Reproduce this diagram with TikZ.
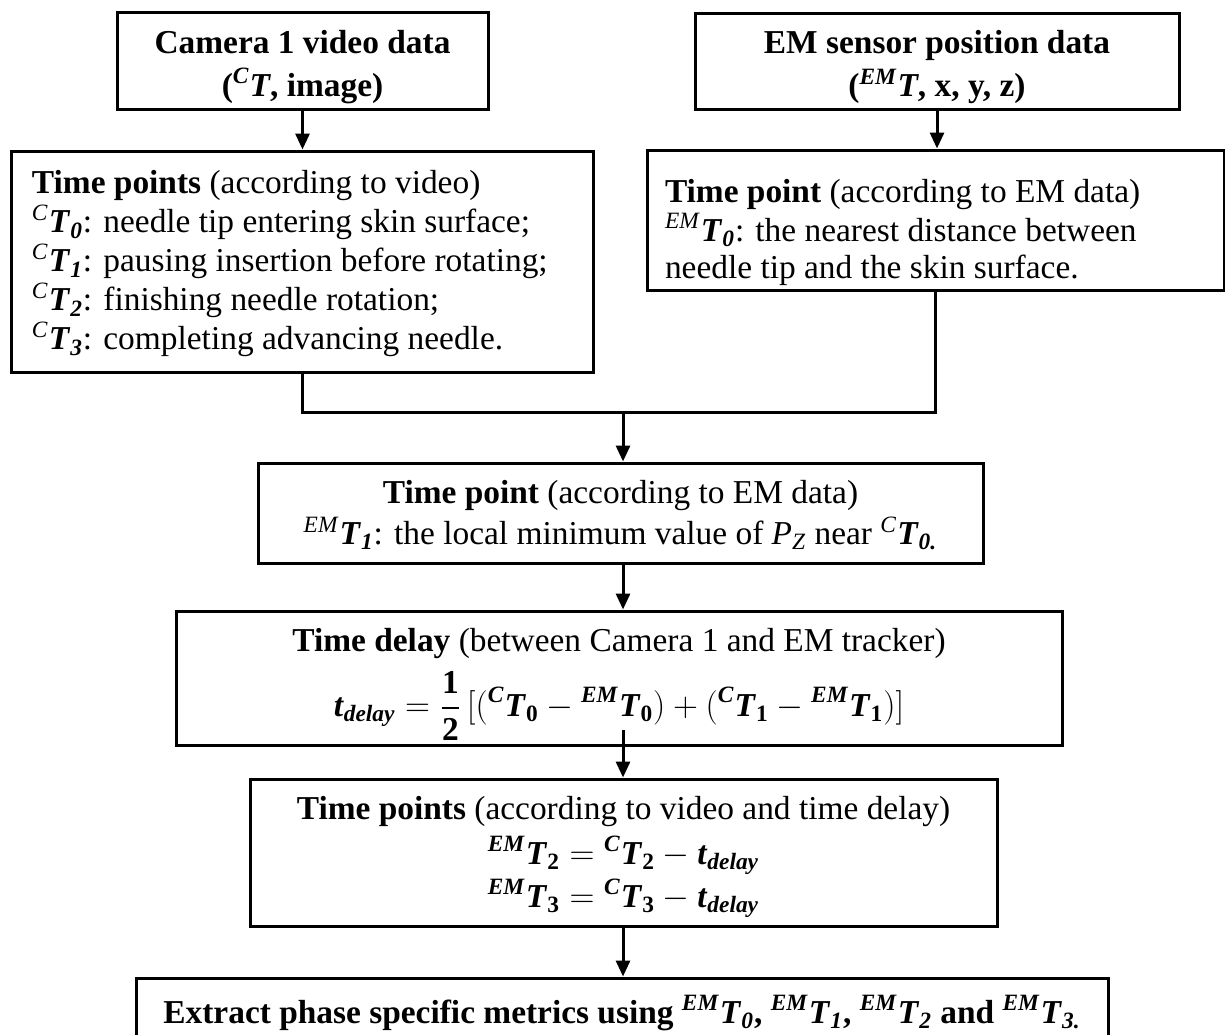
\documentclass[tikz,border=0pt]{standalone}
\usepackage{amsmath}
\usepackage{fontspec}
\setmainfont{Liberation Serif}
\usetikzlibrary{arrows.meta,calc}
\newcommand\bt[1]{\textbf{\textit{#1}}}
\newcommand\tT[2]{\textsuperscript{\textit{#1}}\bt{T}\textsubscript{\bt{#2}}}
\begin{document}
\begin{tikzpicture}[x=0.5pt,y=-0.5pt,
  box/.style={draw, line width=1.5pt, align=center, inner sep=0pt,
    font=\fontsize{16.7}{19.5}\selectfont},
  lbox/.style={box, align=flush left},
  conn/.style={line width=1.5pt},
  arr/.style={line width=1.5pt, -{Triangle[length=8pt,width=7pt]}}]
\useasboundingbox (0,0) rectangle (1225,1034);

\node[box, font=\fontsize{16.7}{19.5}\selectfont\bfseries, minimum width=371*0.5pt, minimum height=97*0.5pt] (A) at (302.5,60.5)
  {\rule{0pt}{18pt}Camera 1 video data\\[2pt](\textsuperscript{\textit{C}}\textit{T}, image)};
\node[box, font=\fontsize{16.7}{19.5}\selectfont\bfseries, minimum width=484*0.5pt, minimum height=96*0.5pt] (B) at (937,61)
  {\rule{0pt}{18pt}EM sensor position data\\[2pt](\textsuperscript{\textit{EM}}\textit{T}, x, y, z)};

\node[lbox, text width=270pt, inner xsep=10.5pt, minimum height=221*0.5pt] (C) at (302,261.5)
  {\rule{0pt}{14pt}\textbf{Time points} (according to video)\\
   \tT{C}{0}: needle tip entering skin surface;\\
   \tT{C}{1}: pausing insertion before rotating;\\
   \tT{C}{2}: finishing needle rotation;\\
   \tT{C}{3}: completing advancing needle.};
\node[lbox, text width=270.5pt, inner xsep=9pt, minimum height=140*0.5pt] (D) at (935.5,220)
  {\rule{0pt}{24pt}\textbf{Time point} (according to EM data)\\
   \tT{EM}{0}: the nearest distance between\\[-1pt]
   needle tip and the skin surface.};

\coordinate (J) at (623,412);

\node[box, minimum width=725*0.5pt, minimum height=100*0.5pt] (E) at (620.5,513)
  {\rule{0pt}{14pt}\textbf{Time point} (according to EM data)\\[1pt]
   \tT{EM}{1}: the local minimum value of \textit{P}\textsubscript{\textit{Z}} near \tT{C}{0.}};

\node[box, minimum width=886*0.5pt, minimum height=134*0.5pt] (F) at (619,678)
  {\rule{0pt}{18pt}\textbf{Time delay} (between Camera 1 and EM tracker)\\[5pt]
   $\displaystyle \bt{t}_{\bt{delay}} = \frac{\textbf{1}}{\textbf{2}}\,[({}^{\bt{C}}\bt{T}_{\textbf{0}} - {}^{\bt{EM}}\bt{T}_{\textbf{0}}) + ({}^{\bt{C}}\bt{T}_{\textbf{1}} - {}^{\bt{EM}}\bt{T}_{\textbf{1}})]$};

\node[box, minimum width=747*0.5pt, minimum height=147*0.5pt] (G) at (623.5,852.5)
  {\rule{0pt}{16pt}\textbf{Time points} (according to video and time delay)\\[3pt]
   ${}^{\bt{EM}}\bt{T}_{\textbf{2}} = {}^{\bt{C}}\bt{T}_{\textbf{2}} - \bt{t}_{\bt{delay}}$\\[2pt]
   ${}^{\bt{EM}}\bt{T}_{\textbf{3}} = {}^{\bt{C}}\bt{T}_{\textbf{3}} - \bt{t}_{\bt{delay}}$};

\node[box, font=\fontsize{16.7}{19.5}\selectfont\bfseries, minimum width=972*0.5pt, minimum height=70*0.5pt] (H) at (622,1013)
  {Extract phase specific metrics using \tT{EM}{0}, \tT{EM}{1}, \tT{EM}{2} and \tT{EM}{3.}};

\draw[arr] (A.south) -- (A.south |- C.north);
\draw[arr] (B.south) -- (B.south |- D.north);
\draw[conn] (C.south) -- (C.south |- J) -- (D.south |- J) -- (D.south);
\draw[arr] (J) -- (J |- E.north);
\draw[arr] (J |- E.south) -- (J |- F.north);
\draw[arr] ($(J |- F.south)+(0,-17)$) -- (J |- G.north);
\draw[arr] (J |- G.south) -- (J |- H.north);
\end{tikzpicture}
\end{document}
